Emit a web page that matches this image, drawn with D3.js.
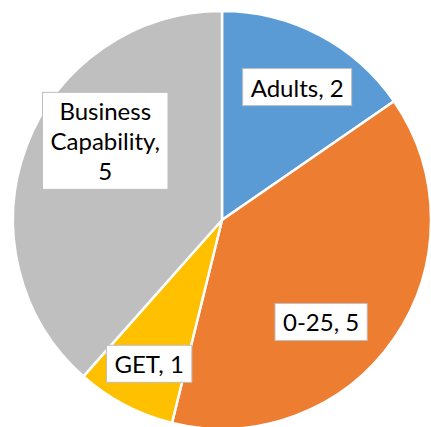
<!DOCTYPE html>
<html>
<head>
<meta charset="utf-8">
<script src="https://cdn.jsdelivr.net/npm/d3@7"></script>
<style>
  html, body { margin: 0; padding: 0; background: #fff; }
  svg { display: block; }
</style>
</head>
<body>
<svg id="chart" width="431" height="427"></svg>
<script>
// Data
const categories = ["Adults", "0-25", "GET", "Business Capability"];
const values = [2, 5, 1, 5];
const colors = ["#5B9BD5", "#ED7D31", "#FFC000", "#BFBFBF"];
// Label text lines per slice
const labelLines = [["Adults, 2"], ["0-25, 5"], ["GET, 1"], ["Business", "Capability,", "5"]];
// Label placement: angular shift from slice middle (degrees) and radius as fraction of pie radius
const labelAngleShift = [2, 11.5, -1, 13];
const labelRadiusFrac = [0.726, 0.684, 0.776, 0.672];

const width = 431, height = 427;
const cx = 222, cy = 220, radius = 209;

const svg = d3.select("#chart");
const g = svg.append("g").attr("transform", `translate(${cx},${cy})`);

const pie = d3.pie().sort(null).value(d => d)(values);
const arc = d3.arc().innerRadius(0).outerRadius(radius);

g.selectAll("path.slice")
  .data(pie)
  .join("path")
  .attr("class", "slice")
  .attr("d", arc)
  .attr("fill", (d, i) => colors[i])
  .attr("stroke", "#fff")
  .attr("stroke-width", 2.5)
  .attr("stroke-linejoin", "round");

// Data labels in white boxes
const fontSize = 24;
const lineH = 30;
const labels = g.selectAll("g.label")
  .data(pie)
  .join("g")
  .attr("class", "label")
  .attr("transform", (d, i) => {
    const mid = (d.startAngle + d.endAngle) / 2 + labelAngleShift[i] * Math.PI / 180;
    const r = radius * labelRadiusFrac[i];
    return `translate(${r * Math.sin(mid)},${-r * Math.cos(mid)})`;
  });

labels.each(function(d, i) {
  const sel = d3.select(this);
  const lines = labelLines[i];
  const rect = sel.append("rect")
    .attr("fill", "#fff")
    .attr("stroke", "#BFBFBF")
    .attr("stroke-width", 1);
  const text = sel.append("text")
    .attr("text-anchor", "middle")
    .attr("font-family", "Lato, 'Open Sans', sans-serif")
    .attr("font-size", fontSize)
    .attr("fill", "#000");
  const n = lines.length;
  lines.forEach((t, k) => {
    text.append("tspan")
      .attr("x", 0)
      .attr("y", (k - (n - 1) / 2) * lineH)
      .attr("dy", "0.35em")
      .text(t);
  });
  const bb = text.node().getBBox();
  const padX = 8, padY = 4;
  rect.attr("x", bb.x - padX)
      .attr("y", bb.y - padY)
      .attr("width", bb.width + 2 * padX)
      .attr("height", bb.height + 2 * padY);
});
</script>
</body>
</html>
